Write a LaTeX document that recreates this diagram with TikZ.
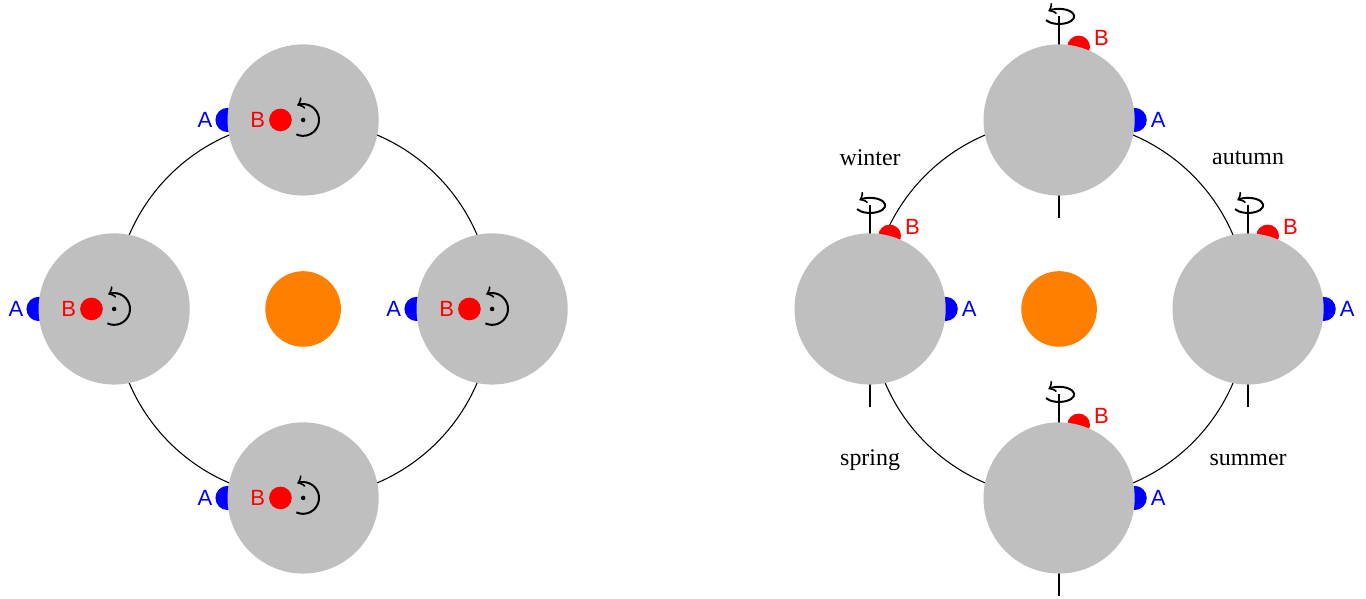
\documentclass[tikz,border=0pt]{standalone}
\usepackage{fontspec}
\setmainfont{Liberation Serif}
\newfontfamily\abfont{Liberation Sans}
\usetikzlibrary{calc}
\begin{document}
\begin{tikzpicture}[
  planet/.style={circle, fill=lightgray, minimum size=2cm, inner sep=0pt},
  sun/.style={circle, fill=orange, minimum size=1cm, inner sep=0pt},
  adot/.style={circle, fill=blue, minimum size=0.32cm, inner sep=0pt},
  bdot/.style={circle, fill=red, minimum size=0.3cm, inner sep=0pt},
  lab/.style={font=\abfont\fontsize{8.3}{10}\selectfont, inner sep=0pt},
  season/.style={font=\fontsize{9}{11}\selectfont, inner sep=0pt},
  orbit/.style={draw=black, line width=0.4pt},
  spin/.style={->, line width=0.75pt},
  axisline/.style={line width=0.8pt}
]
\useasboundingbox (-0.01,-3.836) rectangle (18.06,4.087);
% orbits
\draw[orbit] (4,0) circle (2.5);
\draw[orbit] (14,0) circle (2.5);
% suns
\node[sun] (sunL) at (4,0) {};
\node[sun] (sunR) at (14,0) {};
% left figure
\foreach \n/\x/\y in {t/4/2.5, l/1.5/0, r/6.5/0, b/4/-2.5} {
  \node[adot] (LA\n) at (\x-1,\y) {};
  \node[planet] (LP\n) at (\x,\y) {};
  \node[bdot] (LB\n) at (\x-0.3,\y) {};
  \node[lab, text=blue] (LAl\n) at (\x-1.3,\y) {A};
  \node[lab, text=red] (LBl\n) at (\x-0.6,\y) {B};
  \fill (\x,\y) circle (0.03);
  \draw[spin] (\x,\y) ++(-115:0.21) arc[start angle=-115, end angle=112, radius=0.21];
}
% right figure
\foreach \n/\x/\y in {t/14/2.5, l/11.5/0, r/16.5/0, b/14/-2.5} {
  \coordinate (RAxT\n) at (\x,\y+1.37);
  \coordinate (RAxB\n) at (\x,\y-1.3);
  \draw[axisline] (RAxB\n) -- (RAxT\n);
  \node[bdot] (RB\n) at ($(\x,\y)+(75:1)$) {};
  \node[adot] (RA\n) at (\x+1,\y) {};
  \node[planet] (RP\n) at (\x,\y) {};
  \node[lab, text=blue] (RAl\n) at (\x+1.31,\y) {A};
  \node[lab, text=red] (RBl\n) at (\x+0.56,\y+1.08) {B};
  \draw[spin] (\x,\y+1.37) ++(210:0.2 and 0.1)
     arc[start angle=210, end angle=495, x radius=0.2, y radius=0.1];
}
\node[season] (winter) at (11.5,2.0) {winter};
\node[season] (autumn) at (16.5,2.0) {autumn};
\node[season] (spring) at (11.5,-2.0) {spring};
\node[season] (summer) at (16.5,-2.0) {summer};
\end{tikzpicture}
\end{document}
